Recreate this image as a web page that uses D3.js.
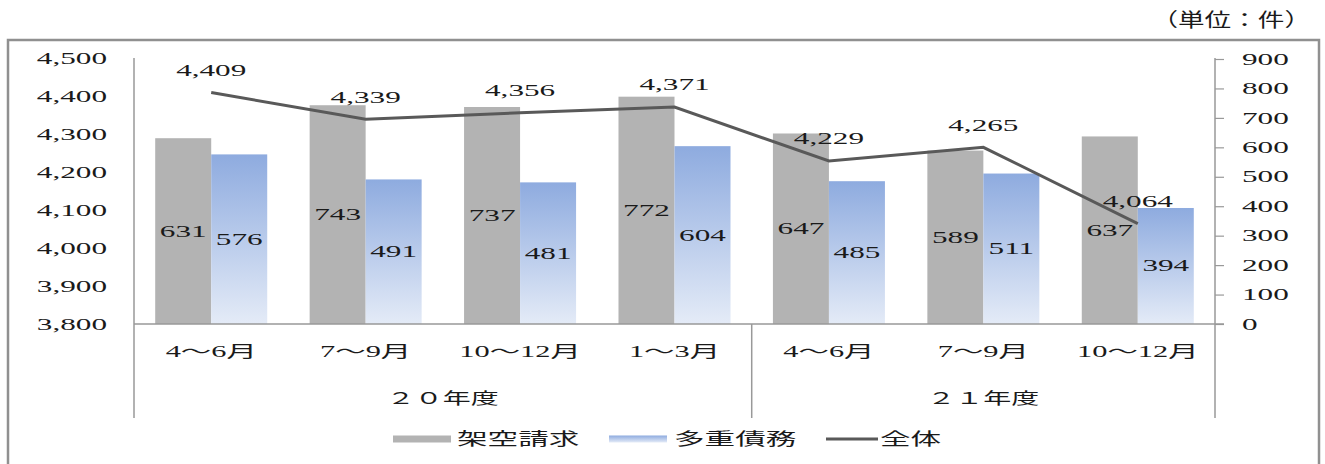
<!DOCTYPE html>
<html>
<head>
<meta charset="utf-8">
<script src="https://cdn.jsdelivr.net/npm/d3@7"></script>
<style>
  body { margin: 0; background: #fff; }
  text { font-family: "Liberation Serif", "Noto Sans CJK JP", serif; fill: #1a1a1a; }
  .jp { font-family: "Noto Sans CJK JP", sans-serif; }
</style>
</head>
<body>
<script>
// data
const quarters = ["4～6月", "7～9月", "10～12月", "1～3月", "4～6月", "7～9月", "10～12月"];
const yearLabels = ["２０年度", "２１年度"];
const yearSpans = [4, 3];
const kakuSeikyu = [631, 743, 737, 772, 647, 589, 637];   // 架空請求 (right axis)
const tajuSaimu = [576, 491, 481, 604, 485, 511, 394];    // 多重債務 (right axis)
const zentai = [4409, 4339, 4356, 4371, 4229, 4265, 4064]; // 全体 (left axis)
const leftTicks = [3800, 3900, 4000, 4100, 4200, 4300, 4400, 4500];
const rightTicks = [0, 100, 200, 300, 400, 500, 600, 700, 800, 900];

let width = 1325,
    height = 464;

const SX = 1.95; // the source picture is stretched sideways
const NUM_FONT = "Liberation Serif";

let svg = d3.select("body").append("svg")
    .attr("width", width)
    .attr("height", height);

let defs = svg.append("defs");
let grad = defs.append("linearGradient")
    .attr("id", "blueGrad")
    .attr("x1", 0).attr("y1", 0).attr("x2", 0).attr("y2", 1);
grad.append("stop").attr("offset", "0%").attr("stop-color", "#8eabdf");
grad.append("stop").attr("offset", "100%").attr("stop-color", "#e4ebf7");

// outer frame
svg.append("rect")
    .attr("x", 8).attr("y", 40)
    .attr("width", 1311).attr("height", 460)
    .attr("fill", "none")
    .attr("stroke", "#909090")
    .attr("stroke-width", 2.5);

// unit label
svg.append("text")
    .attr("class", "jp")
    .attr("transform", "translate(1311,27) scale(1.4,1)")
    .attr("text-anchor", "end")
    .attr("font-size", 19)
    .text("（単位：件）");

let plotL = 134, plotR = 1215, plotT = 58, plotB = 324;

let x = d3.scaleBand()
    .domain(d3.range(quarters.length))
    .range([plotL, plotR])
    .paddingInner(0.2747)
    .paddingOuter(0.2747 / 2);

let x1 = d3.scaleBand()
    .domain(["kaku", "taju"])
    .range([0, x.bandwidth()]);

let yL = d3.scaleLinear().domain([3800, 4500]).range([plotB, plotT]);
let yR = d3.scaleLinear().domain([0, 900]).range([plotB, plotT + 1]);

// left axis labels
let gL = svg.append("g")
    .attr("transform", "translate(107,0)")
    .call(d3.axisLeft(yL).tickValues(leftTicks).tickSize(0).tickPadding(0).tickFormat(d3.format(",")));
gL.select(".domain").remove();
gL.selectAll("text")
    .attr("font-size", 16)
    .attr("font-family", NUM_FONT)
    .attr("fill", "#1a1a1a")
    .attr("transform", `scale(${SX},1)`);

// right axis
let gR = svg.append("g")
    .attr("transform", `translate(${plotR},0)`)
    .call(d3.axisRight(yR).tickValues(rightTicks).tickSize(9).tickPadding(18));
gR.select(".domain").remove();
gR.selectAll("line").attr("stroke", "#999").attr("stroke-width", 1.2);
gR.selectAll("text")
    .attr("font-size", 16)
    .attr("font-family", NUM_FONT)
    .attr("fill", "#1a1a1a")
    .attr("x", 27 / SX)
    .attr("transform", `scale(${SX},1)`);

// bars
let groups = svg.selectAll(".grp")
    .data(quarters.map((q, i) => i))
    .enter().append("g")
    .attr("class", "grp")
    .attr("transform", i => `translate(${x(i)},0)`);

groups.append("rect")
    .attr("x", x1("kaku"))
    .attr("width", x1.bandwidth())
    .attr("y", i => yR(kakuSeikyu[i]))
    .attr("height", i => plotB - yR(kakuSeikyu[i]))
    .attr("fill", "#b3b3b3");

groups.append("rect")
    .attr("x", x1("taju"))
    .attr("width", x1.bandwidth())
    .attr("y", i => yR(tajuSaimu[i]))
    .attr("height", i => plotB - yR(tajuSaimu[i]))
    .attr("fill", "url(#blueGrad)");

function label(sel, cx, cy, txt) {
    sel.append("text")
        .attr("transform", `translate(${cx},${cy}) scale(${SX},1)`)
        .attr("text-anchor", "middle")
        .attr("dy", "0.34em")
        .attr("font-size", 16)
        .text(txt);
}

groups.each(function (i) {
    let g = d3.select(this);
    label(g, x1("kaku") + x1.bandwidth() / 2, (yR(kakuSeikyu[i]) + plotB) / 2, kakuSeikyu[i]);
    label(g, x1("taju") + x1.bandwidth() / 2, (yR(tajuSaimu[i]) + plotB) / 2, tajuSaimu[i]);
});

// axes lines
svg.append("line")
    .attr("x1", plotL).attr("x2", plotL)
    .attr("y1", plotT).attr("y2", 418)
    .attr("stroke", "#999").attr("stroke-width", 1.5);
svg.append("line")
    .attr("x1", plotR).attr("x2", plotR)
    .attr("y1", plotT).attr("y2", 418)
    .attr("stroke", "#999").attr("stroke-width", 1.5);
svg.append("line")
    .attr("x1", plotL).attr("x2", plotR + 9)
    .attr("y1", plotB).attr("y2", plotB)
    .attr("stroke", "#999").attr("stroke-width", 1.5);

// year separators & labels
let step = x.step();
let start = 0;
yearLabels.forEach((lab, k) => {
    let x0 = plotL + start * step,
        xe = plotL + (start + yearSpans[k]) * step;
    if (k > 0) {
        svg.append("line")
            .attr("x1", x0).attr("x2", x0)
            .attr("y1", plotB).attr("y2", 418)
            .attr("stroke", "#999").attr("stroke-width", 1.5);
    }
    svg.append("text")
        .attr("class", "jp")
        .attr("transform", `translate(${(x0 + xe) / 2},398) scale(1.75,1)`)
        .attr("text-anchor", "middle")
        .attr("dy", "0.36em")
        .attr("font-size", 16)
        .text(lab);
    start += yearSpans[k];
});

// category labels
svg.selectAll(".cat")
    .data(quarters)
    .enter().append("text")
    .attr("class", "cat")
    .attr("transform", (d, i) => `translate(${x(i) + x.bandwidth() / 2},351) scale(1.9,1)`)
    .attr("text-anchor", "middle")
    .attr("dy", "0.36em")
    .attr("font-size", 16)
    .text(d => d);

// total line
let line = d3.line()
    .x((d, i) => x(i) + x.bandwidth() / 2)
    .y(d => yL(d));

svg.append("path")
    .datum(zentai)
    .attr("d", line)
    .attr("fill", "none")
    .attr("stroke", "#595959")
    .attr("stroke-width", 3);

zentai.forEach((v, i) => {
    label(svg, x(i) + x.bandwidth() / 2, yL(v) - 22, d3.format(",")(v));
});

// legend
let legend = svg.append("g").attr("transform", "translate(0,439)");
legend.append("rect").attr("x", 393).attr("y", -3.5).attr("width", 58).attr("height", 7).attr("fill", "#b3b3b3");
legend.append("rect").attr("x", 609).attr("y", -3.5).attr("width", 58).attr("height", 7).attr("fill", "url(#blueGrad)");
legend.append("line").attr("x1", 826).attr("x2", 878).attr("y1", 0).attr("y2", 0)
    .attr("stroke", "#595959").attr("stroke-width", 3);

[["架空請求", 457], ["多重債務", 674], ["全体", 880]].forEach(([t, lx]) => {
    legend.append("text")
        .attr("class", "jp")
        .attr("transform", `translate(${lx},0) scale(1.8,1)`)
        .attr("dy", "0.36em")
        .attr("font-size", 17)
        .text(t);
});
</script>
</body>
</html>
